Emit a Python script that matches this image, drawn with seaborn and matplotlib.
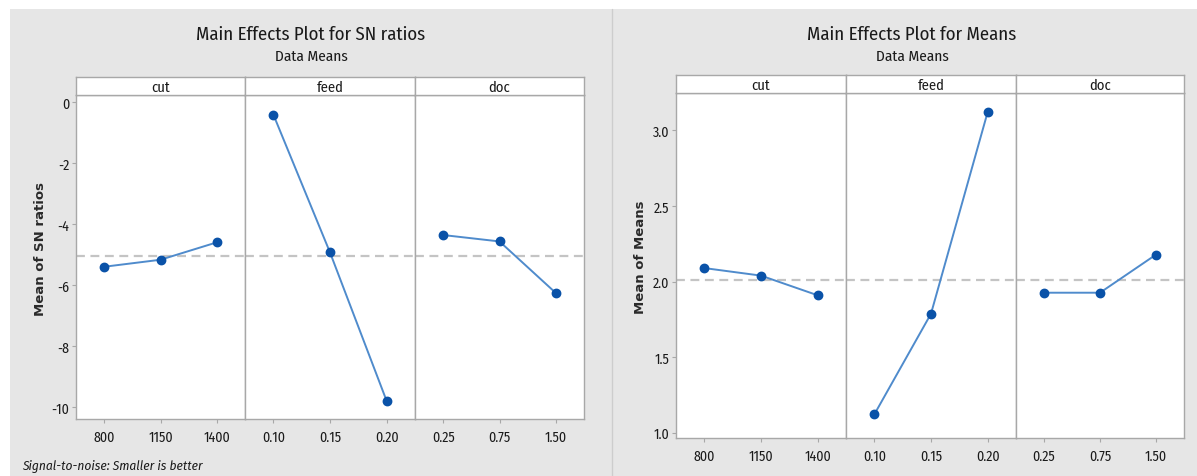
import numpy as np
import pandas as pd
import matplotlib
matplotlib.use("Agg")
import matplotlib.pyplot as plt
import seaborn as sns
from matplotlib.patches import Rectangle
from matplotlib.lines import Line2D

# ---------------- data ----------------
factors = ["cut", "feed", "doc"]
cut_levels = ["800", "1150", "1400"]
feed_levels = ["0.10", "0.15", "0.20"]
doc_levels = ["0.25", "0.75", "1.50"]

sn_cut = [-5.40, -5.17, -4.60]
sn_feed = [-0.41, -4.93, -9.80]
sn_doc = [-4.36, -4.57, -6.26]

mean_cut = [2.089, 2.039, 1.909]
mean_feed = [1.121, 1.787, 3.121]
mean_doc = [1.926, 1.926, 2.178]

sn_yticks = [0, -2, -4, -6, -8, -10]
mean_yticks = [1.0, 1.5, 2.0, 2.5, 3.0]
mean_yticklabels = ["1.0", "1.5", "2.0", "2.5", "3.0"]

levels = {"cut": cut_levels, "feed": feed_levels, "doc": doc_levels}

def make_df(vals):
    rows = []
    for f, v in zip(factors, vals):
        for lv, y in zip(levels[f], v):
            rows.append({"factor": f, "level": lv, "value": y})
    return pd.DataFrame(rows)

sn_df = make_df([sn_cut, sn_feed, sn_doc])
mean_df = make_df([mean_cut, mean_feed, mean_doc])

# ---------------- style ----------------
sns.set_style("white")
NARROW = ["Fira Sans Condensed", "DejaVu Sans"]
plt.rcParams["font.family"] = NARROW

W, H = 1197, 477
fig = plt.figure(figsize=(W / 100, H / 100), dpi=100)
fig.patch.set_facecolor("white")

GRAY_BG = "#e6e6e6"
SPINE = "#a8a8a8"
LINE_C = "#4f8bcc"
MARK_C = "#0a52a8"
REF_C = "#c4c4c4"
TXT = "#1a1a1a"

def px(x0, y0, x1, y1):
    return [x0 / W, 1 - y1 / H, (x1 - x0) / W, (y1 - y0) / H]

fig.patches.append(Rectangle((10 / W, 0), 1 - 10 / W, 1 - 10 / H,
                             transform=fig.transFigure, facecolor=GRAY_BG,
                             edgecolor="none", zorder=-10))
fig.add_artist(Line2D([612 / W, 612 / W], [0, 1 - 10 / H], transform=fig.transFigure,
                      color="#cdcdcd", lw=1))

def draw_group(df, xs, strip_top, strip_bot, plot_bot, ylim, yticks, yticklabels,
               ylabel, title, title_x, label_x):
    ref = df["value"].mean()
    axes = []
    for i, f in enumerate(factors):
        x0, x1 = xs[i], xs[i + 1]
        ax = fig.add_axes(px(x0, strip_bot, x1, plot_bot))
        sub = df[df["factor"] == f]
        sns.pointplot(data=sub, x="level", y="value", order=levels[f],
                      errorbar=None, color=LINE_C, markers="o",
                      markersize=6, linewidth=1.4, ax=ax)
        for ln in ax.lines:
            ln.set_color(LINE_C)
            ln.set_markerfacecolor(MARK_C)
            ln.set_markeredgecolor(MARK_C)
            ln.set_zorder(3)
        ax.axhline(ref, color=REF_C, ls=(0, (4, 2.5)), lw=1.6, zorder=1)
        ax.set_xlim(-0.5, 2.5)
        ax.set_ylim(*ylim)
        ax.set_xlabel("")
        ax.set_ylabel("")
        for s in ax.spines.values():
            s.set_color(SPINE)
            s.set_linewidth(1.0)
        ax.tick_params(axis="x", length=3, width=0.8, color=SPINE, labelsize=10,
                       labelcolor=TXT, pad=5, bottom=True)
        if i == 0:
            ax.set_yticks(yticks)
            ax.set_yticklabels(yticklabels)
            ax.tick_params(axis="y", length=3, width=0.8, color=SPINE, labelsize=10,
                           labelcolor=TXT, left=True, pad=2)
        else:
            ax.set_yticks([])
        # strip
        sax = fig.add_axes(px(x0, strip_top, x1, strip_bot))
        sax.set_xticks([])
        sax.set_yticks([])
        sax.set_facecolor("white")
        for s in sax.spines.values():
            s.set_color(SPINE)
            s.set_linewidth(1.0)
        sax.text(0.5, 0.45, f, ha="center", va="center", fontsize=10.5, color=TXT,
                 transform=sax.transAxes)
        axes.append(ax)
    ax0 = axes[0]
    ax0.set_ylabel(ylabel, family="DejaVu Sans", fontweight="bold",
                   fontsize=9.5, color="#2a2a2a")
    h = plot_bot - strip_bot
    center = (strip_top + plot_bot) / 2
    ax0.yaxis.set_label_coords((label_x + 7 - xs[0]) / (xs[1] - xs[0]),
                               (plot_bot - center) / h)
    fig.text(title_x / W, 1 - 35 / H, title, ha="center", va="center",
             fontsize=13.5, color=TXT)
    fig.text(title_x / W, 1 - 57 / H, "Data Means", ha="center", va="center",
             fontsize=11, color=TXT)
    return axes

draw_group(sn_df, [76, 245, 415, 584], 78, 96, 420, (-10.39, 0.23),
           sn_yticks, [str(t) for t in sn_yticks], "Mean of SN ratios",
           "Main Effects Plot for SN ratios", 311, 40)
draw_group(mean_df, [676, 846, 1016, 1184], 76, 94, 439, (0.965, 3.247),
           mean_yticks, mean_yticklabels, "Mean of Means",
           "Main Effects Plot for Means", 912, 640)

fig.text(22 / W, 1 - 467 / H, "Signal-to-noise: Smaller is better", ha="left",
         va="center", fontsize=9.6, style="italic", color=TXT)

fig.savefig("out.png", dpi=100, facecolor="white")
